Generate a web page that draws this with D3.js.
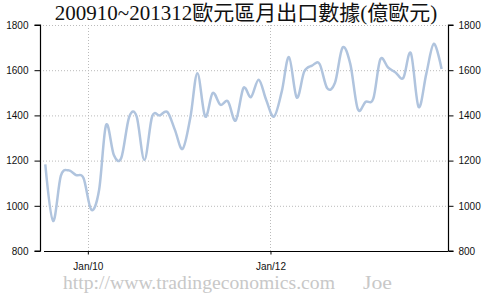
<!DOCTYPE html>
<html>
<head>
<meta charset="utf-8">
<script src="https://cdn.jsdelivr.net/npm/d3@7"></script>
<style>
  html, body { margin: 0; padding: 0; background: #fff; }
  svg { display: block; }
</style>
</head>
<body>
<svg id="chart" width="492" height="299"></svg>
<script>
const titleText = "200910~201312歐元區月出口數據(億歐元)";
const months = [
  "2009-07","2009-08","2009-09","2009-10","2009-11","2009-12",
  "2010-01","2010-02","2010-03","2010-04","2010-05","2010-06","2010-07","2010-08","2010-09","2010-10","2010-11","2010-12",
  "2011-01","2011-02","2011-03","2011-04","2011-05","2011-06","2011-07","2011-08","2011-09","2011-10","2011-11","2011-12",
  "2012-01","2012-02","2012-03","2012-04","2012-05","2012-06","2012-07","2012-08","2012-09","2012-10","2012-11","2012-12",
  "2013-01","2013-02","2013-03","2013-04","2013-05","2013-06","2013-07","2013-08","2013-09","2013-10","2013-11"
];
const exportsValues = [
  1183, 933, 1132, 1157, 1136, 1122,
  982, 1070, 1358, 1225, 1213, 1392, 1396, 1203, 1395, 1400, 1415, 1336,
  1252, 1392, 1587, 1395, 1499, 1447, 1462, 1377, 1521, 1481, 1558, 1468,
  1395, 1505, 1658, 1479, 1594, 1620, 1628, 1520, 1545, 1700, 1628, 1428,
  1460, 1474, 1648, 1612, 1590, 1566, 1676, 1437, 1585, 1717, 1605
];
const yTicks = [800, 1000, 1200, 1400, 1600, 1800];
const xTickDates = ["2010-01-01", "2012-01-01"];
const watermark = "http://www.tradingeconomics.com";
const author = "Joe";

const svg = d3.select("#chart");
const parseMonth = d3.timeParse("%Y-%m-%d");
const data = months.map((m, i) => ({ date: parseMonth(m + "-15"), value: exportsValues[i] }));

const plotLeft = 40, plotRight = 448, plotTop = 25, plotBottom = 251;

const x = d3.scaleTime()
  .domain([data[0].date, data[data.length - 1].date])
  .range([45.3, 441.6]);
const y = d3.scaleLinear().domain([800, 1800]).range([plotBottom, plotTop]);

// title
svg.append("text")
  .attr("x", 246).attr("y", 20)
  .attr("text-anchor", "middle")
  .attr("font-family", "'Liberation Serif', 'Noto Sans CJK TC', serif")
  .attr("font-size", 21)
  .attr("fill", "#111")
  .text(titleText);

// horizontal grid
svg.append("g").selectAll("line").data(yTicks.filter(d => d > 800)).join("line")
  .attr("x1", plotLeft + 3).attr("x2", plotRight)
  .attr("y1", d => y(d) + 0.5).attr("y2", d => y(d) + 0.5)
  .attr("stroke", "#bbb").attr("stroke-dasharray", "1,2").attr("stroke-width", 1);

// vertical grid
const xTicks = xTickDates.map(s => parseMonth(s));
svg.append("g").selectAll("line").data(xTicks).join("line")
  .attr("x1", d => Math.round(x(d)) + 0.5).attr("x2", d => Math.round(x(d)) + 0.5)
  .attr("y1", plotTop).attr("y2", plotBottom)
  .attr("stroke", "#bbb").attr("stroke-dasharray", "1,2").attr("stroke-width", 1);

// left axis
const leftAxis = d3.axisLeft(y).tickValues(yTicks).tickSize(6).tickPadding(6).tickFormat(d3.format("d"));
const gL = svg.append("g").attr("transform", `translate(${plotLeft + 0.5},0)`).call(leftAxis);
// right axis
const rightAxis = d3.axisRight(y).tickValues(yTicks).tickSize(5).tickPadding(5).tickFormat(d3.format("d"));
const gR = svg.append("g").attr("transform", `translate(${plotRight + 0.5},0)`).call(rightAxis);
// bottom axis
const bottomAxis = d3.axisBottom(x).tickValues(xTicks).tickSize(3).tickPadding(8).tickFormat(d3.timeFormat("Jan/%y"));
const gB = svg.append("g").attr("transform", `translate(0,${plotBottom + 0.5})`).call(bottomAxis);
gB.select(".domain").attr("d", `M${plotLeft + 4},0H${plotRight}`);
gL.select(".domain").attr("d", `M-6,${plotTop}H0V${plotBottom}H-6`);
gR.select(".domain").attr("d", `M5,${plotTop}H0V${plotBottom}H5`);

[gL, gR, gB].forEach(g => {
  g.selectAll(".domain").attr("stroke", "#000").attr("stroke-width", 1.2);
  g.selectAll(".tick line").attr("stroke", "#000");
  g.selectAll("text")
    .attr("font-family", "'Liberation Sans', Arial, sans-serif")
    .attr("font-size", 10)
    .attr("fill", "#111");
});

// line
const line = d3.line().x(d => x(d.date)).y(d => y(d.value)).curve(d3.curveCardinal);
svg.append("path").datum(data)
  .attr("d", line)
  .attr("fill", "none")
  .attr("stroke", "#b0c4de")
  .attr("stroke-width", 2.5)
  .attr("stroke-linejoin", "round");

// watermark
svg.append("text")
  .attr("x", 63).attr("y", 289)
  .attr("font-family", "'Liberation Serif', serif")
  .attr("font-size", 18)
  .attr("textLength", 272).attr("lengthAdjust", "spacingAndGlyphs")
  .attr("fill", "#c8c8c8")
  .text(watermark);
svg.append("text")
  .attr("x", 363).attr("y", 289)
  .attr("font-family", "'Liberation Serif', serif")
  .attr("font-size", 18)
  .attr("textLength", 29).attr("lengthAdjust", "spacingAndGlyphs")
  .attr("fill", "#c8c8c8")
  .text(author);
</script>
</body>
</html>
